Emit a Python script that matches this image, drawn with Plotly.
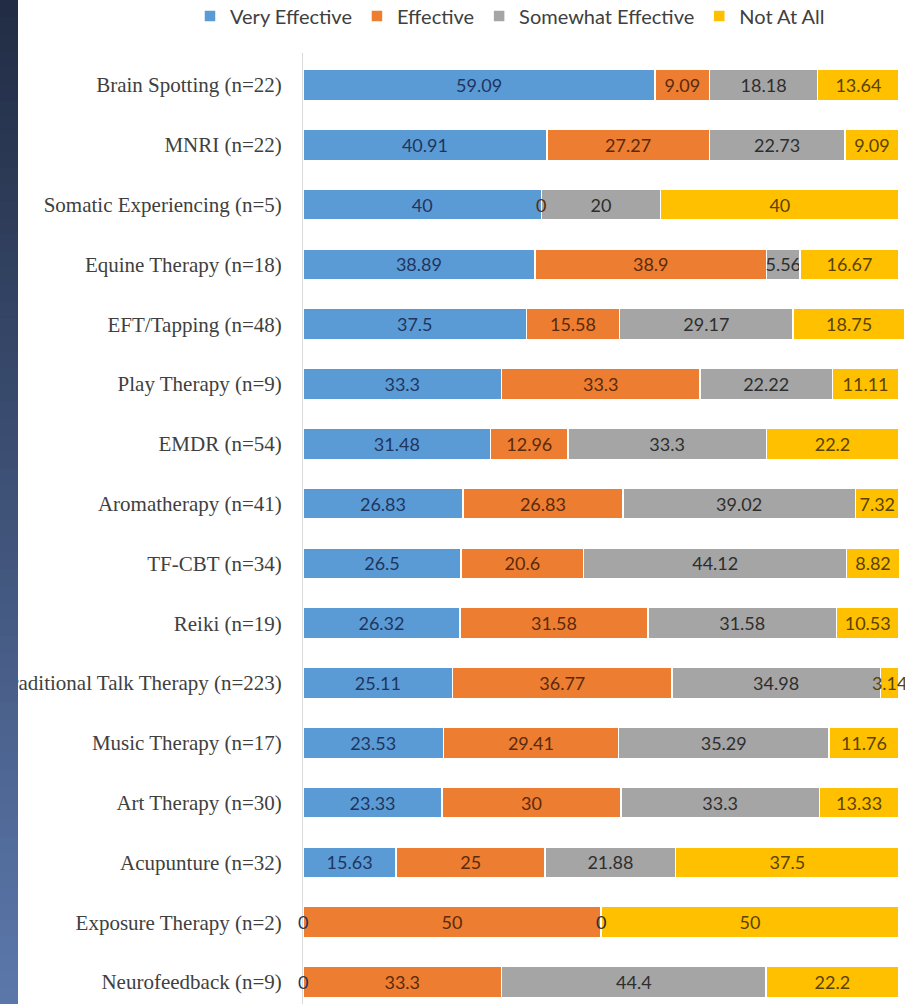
import plotly.graph_objects as go

categories = [
    "Brain Spotting (n=22)", "MNRI (n=22)", "Somatic Experiencing (n=5)",
    "Equine Therapy (n=18)", "EFT/Tapping (n=48)", "Play Therapy (n=9)",
    "EMDR (n=54)", "Aromatherapy (n=41)", "TF-CBT (n=34)", "Reiki (n=19)",
    "Traditional Talk Therapy (n=223)", "Music Therapy (n=17)", "Art Therapy (n=30)",
    "Acupunture (n=32)", "Exposure Therapy (n=2)", "Neurofeedback (n=9)",
]
very_effective = [59.09, 40.91, 40, 38.89, 37.5, 33.3, 31.48, 26.83, 26.5, 26.32, 25.11, 23.53, 23.33, 15.63, 0, 0]
effective = [9.09, 27.27, 0, 38.9, 15.58, 33.3, 12.96, 26.83, 20.6, 31.58, 36.77, 29.41, 30, 25, 50, 33.3]
somewhat_effective = [18.18, 22.73, 20, 5.56, 29.17, 22.22, 33.3, 39.02, 44.12, 31.58, 34.98, 35.29, 33.3, 21.88, 0, 44.4]
not_at_all = [13.64, 9.09, 40, 16.67, 18.75, 11.11, 22.2, 7.32, 8.82, 10.53, 3.14, 11.76, 13.33, 37.5, 50, 22.2]

series = [
    ("Very Effective", very_effective, "#5B9BD5", "#1F3560"),
    ("Effective", effective, "#ED7D31", "#5A2A0C"),
    ("Somewhat Effective", somewhat_effective, "#A5A5A5", "#2E2E2E"),
    ("Not At All", not_at_all, "#FFC000", "#5A4300"),
]
TXT_FONT = "Lato, Open Sans, sans-serif"

fig = go.Figure()
for name, vals, color, tcolor in series:
    fig.add_trace(go.Bar(
        y=categories, x=vals, name=name, orientation="h",
        marker=dict(color=color, line=dict(color="white", width=1.5)),
        text=[("" if v == 0 else f"{v:g}") for v in vals],
        textposition="inside", insidetextanchor="middle",
        constraintext="none", textangle=0,
        textfont=dict(family=TXT_FONT, size=18, color=tcolor),
        hoverinfo="skip",
    ))

# zero-value labels placed at the stack boundary
annotations = []
for i, cat in enumerate(categories):
    cum = 0
    for name, vals, color, tcolor in series:
        if vals[i] == 0:
            annotations.append(dict(
                x=cum, y=cat, xref="x", yref="y", text="0", showarrow=False,
                xanchor="center", yanchor="middle",
                font=dict(family=TXT_FONT, size=18, color=tcolor),
            ))
        cum += vals[i]

# left decorative gradient strip
W, H = 914, 1004
ml, mr, mt, mb = 303, 9, 53, 0
pw, ph = W - ml - mr, H - mt - mb
shapes = []
n = 60
c0 = (0x22, 0x2D, 0x45)
c1 = (0x5B, 0x77, 0xAA)
for k in range(n):
    t = k / (n - 1)
    col = "rgb(%d,%d,%d)" % tuple(round(c0[j] + (c1[j] - c0[j]) * t) for j in range(3))
    ytop = H - k * H / n
    ybot = H - (k + 1) * H / n - 1
    shapes.append(dict(
        type="rect", xref="paper", yref="paper", layer="above",
        x0=(0 - ml) / pw, x1=(18 - ml) / pw,
        y0=(ybot - mb) / ph, y1=(ytop - mb) / ph,
        fillcolor=col, line=dict(width=0),
    ))

row_step = (982 - 85) / 15

fig.update_layout(
    width=W, height=H,
    margin=dict(l=ml, r=mr, t=mt, b=mb, pad=0, autoexpand=False),
    barmode="stack", bargap=0.48,
    plot_bgcolor="white", paper_bgcolor="white",
    showlegend=True,
    legend=dict(
        orientation="h",
        x=(190 - ml) / pw, xanchor="left",
        y=1 + (mt - 16) / ph, yanchor="middle",
        font=dict(family=TXT_FONT, size=20, color="#404040"),
        itemwidth=30, traceorder="normal",
    ),
    xaxis=dict(range=[0, 101], showgrid=False, showticklabels=False, zeroline=False,
               showline=False, fixedrange=True),
    yaxis=dict(categoryorder="array", categoryarray=categories,
               range=[15 + (H - 982) / row_step, -(85 - mt) / row_step],
               showgrid=False, zeroline=False, showline=True, linecolor="#D9D9D9",
               linewidth=1, ticks="", ticklabelstandoff=16,
               tickfont=dict(family="Liberation Serif, Times New Roman, serif", size=21,
                             color="#404040")),
    annotations=annotations,
    shapes=shapes,
)

fig.write_html("out.html")
